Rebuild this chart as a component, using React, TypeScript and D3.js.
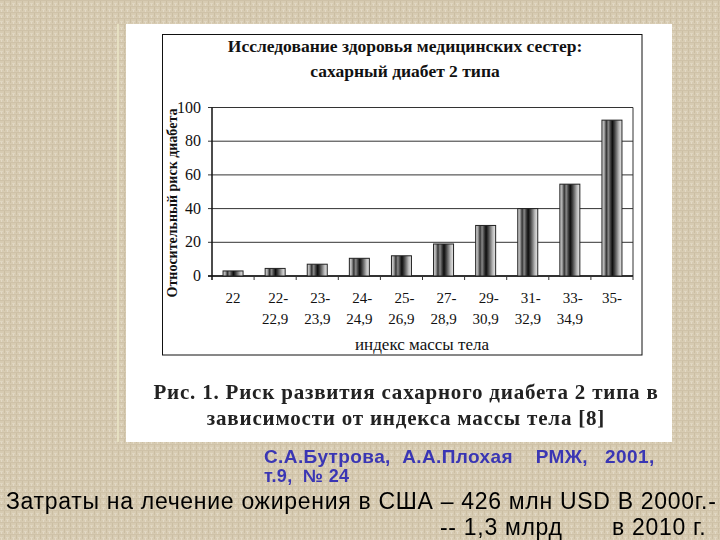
import React from "react";
import * as d3 from "d3";

const categories = ["22", "22-|22,9", "23-|23,9", "24-|24,9", "25-|26,9", "27-|28,9", "29-|30,9", "31-|32,9", "33-|34,9", "35-"];
const values = [3, 4.5, 7, 10.5, 12, 19, 30, 40, 54.5, 92.5];
const yTicks = [0, 20, 40, 60, 80, 100];
const titleLines = ["Исследование здоровья медицинских сестер:", "сахарный диабет 2 типа"];
const yTitle = "Относительный риск диабета";
const xTitle = "индекс массы тела";
const captionLines = ["Рис. 1. Риск развития сахарного диабета 2 типа в", "зависимости от индекса массы тела [8]"];
const sourceLines = ["С.А.Бутрова,  А.А.Плохая    РМЖ,   2001,", "т.9,  № 24"];
const footerLine1 = "Затраты на лечение ожирения в США – 426 млн USD В 2000г.-";
const footerLine2a = "-- 1,3 млрд";
const footerLine2b = "в 2010 г.";

const W = 720;
const H = 540;
const plot = { left: 212, right: 633, top: 107.5, bottom: 276 };

export default function App() {
  const x = d3.scaleBand<string>().domain(categories).range([plot.left, plot.right]).paddingInner(0).paddingOuter(0);
  const y = d3.scaleLinear().domain([0, 100]).range([plot.bottom, plot.top]);
  const barW = 20;
  const serif = "'Liberation Serif', 'DejaVu Serif', serif";
  const sans = "'Liberation Sans', Arial, sans-serif";

  return (
    <svg width={W} height={H} style={{ position: "fixed", left: 0, top: 0 }} xmlns="http://www.w3.org/2000/svg">
      <defs>
        <pattern id="tex" width="6" height="6" patternUnits="userSpaceOnUse">
          <rect width="6" height="6" fill="#d7cbb2" />
          <rect x="0" y="0" width="6" height="1" fill="#cfc2a8" />
          <rect x="0" y="3" width="3" height="1" fill="#e0d6c1" />
          <rect x="4" y="1" width="1" height="4" fill="#cbbea3" />
          <rect x="1" y="4" width="1" height="2" fill="#e2d9c6" />
        </pattern>
        <linearGradient id="barGrad" x1="0" x2="1" y1="0" y2="0">
          <stop offset="0" stopColor="#e0e0e0" />
          <stop offset="0.12" stopColor="#a0a0a0" />
          <stop offset="0.22" stopColor="#333" />
          <stop offset="0.32" stopColor="#8a8a8a" />
          <stop offset="0.42" stopColor="#444" />
          <stop offset="0.52" stopColor="#0d0d0d" />
          <stop offset="0.62" stopColor="#3a3a3a" />
          <stop offset="0.74" stopColor="#7a7a7a" />
          <stop offset="0.86" stopColor="#bdbdbd" />
          <stop offset="1" stopColor="#e8e8e8" />
        </linearGradient>
      </defs>
      <rect x={0} y={0} width={W} height={H} fill="url(#tex)" />
      <line x1={118} x2={118} y1={24} y2={442} stroke="#ece9c8" strokeWidth={1.5} />
      <rect x={126} y={24} width={546} height={418} fill="#ffffff" />
      <rect x={162.5} y={34.5} width={479.5} height={320.5} fill="none" stroke="#111" strokeWidth={1} />

      {titleLines.map((t, i) => (
        <text key={i} x={405} y={52 + i * 25} textAnchor="middle" fontFamily={serif} fontWeight="bold" fontSize={17.5} fill="#111">{t}</text>
      ))}

      {yTicks.map((t) => (
        <g key={t}>
          <line x1={plot.left - 4} x2={plot.right} y1={y(t)} y2={y(t)} stroke="#333" strokeWidth={1} />
          <text x={201} y={y(t) + 5} textAnchor="end" fontFamily={serif} fontSize={16} fill="#111">{t}</text>
        </g>
      ))}
      <line x1={plot.left} x2={plot.left} y1={plot.top} y2={plot.bottom + 4} stroke="#111" strokeWidth={1.5} />
      <line x1={plot.right} x2={plot.right} y1={plot.top} y2={plot.bottom} stroke="#333" strokeWidth={1} />
      <line x1={plot.left - 4} x2={plot.right} y1={plot.bottom} y2={plot.bottom} stroke="#111" strokeWidth={1.5} />
      {categories.map((c, i) => (
        <line key={"tk" + i} x1={(x(c) as number) + x.bandwidth()} x2={(x(c) as number) + x.bandwidth()} y1={plot.bottom} y2={plot.bottom + 4} stroke="#333" />
      ))}

      {categories.map((c, i) => {
        const cx = (x(c) as number) + x.bandwidth() / 2;
        return (
          <rect key={"b" + i} x={cx - barW / 2} y={y(values[i])} width={barW} height={plot.bottom - y(values[i])} fill="url(#barGrad)" stroke="#222" strokeWidth={1} />
        );
      })}

      {categories.map((c, i) => {
        const cx = (x(c) as number) + x.bandwidth() / 2;
        const parts = c.split("|");
        return (
          <text key={"l" + i} x={cx} textAnchor="middle" fontFamily={serif} fontSize={15} fill="#111">
            {parts.map((p, j) => (
              <tspan key={j} x={cx + (j === 0 && parts.length > 1 ? 3 : 0)} y={303 + j * 21}>{p}</tspan>
            ))}
          </text>
        );
      })}

      <text x={422} y={350} textAnchor="middle" fontFamily={serif} fontSize={17} fill="#111">{xTitle}</text>
      <text transform={`translate(177, 203) rotate(-90)`} textAnchor="middle" fontFamily={serif} fontWeight="bold" fontSize={14} fill="#111">{yTitle}</text>

      {captionLines.map((t, i) => (
        <text key={"c" + i} x={406} y={399 + i * 26} textAnchor="middle" fontFamily={serif} fontWeight="bold" fontSize={21} letterSpacing={0.8} fill="#222">{t}</text>
      ))}

      <text x={264} y={463} fontFamily={sans} fontWeight="bold" fontSize={19} letterSpacing={0.4} fill="#3a36b4" style={{ whiteSpace: "pre" }}>{sourceLines[0]}</text>
      <text x={264} y={482} fontFamily={sans} fontWeight="bold" fontSize={18} letterSpacing={0.3} fill="#3a36b4" style={{ whiteSpace: "pre" }}>{sourceLines[1]}</text>

      <text x={6} y={509} fontFamily={sans} fontSize={23} letterSpacing={0.7} fill="#000" style={{ whiteSpace: "pre" }}>{footerLine1}</text>
      <text x={440} y={535} fontFamily={sans} fontSize={23} letterSpacing={0.7} fill="#000" style={{ whiteSpace: "pre" }}>{footerLine2a}</text>
      <text x={612} y={535} fontFamily={sans} fontSize={23} letterSpacing={0.7} fill="#000" style={{ whiteSpace: "pre" }}>{footerLine2b}</text>
    </svg>
  );
}
